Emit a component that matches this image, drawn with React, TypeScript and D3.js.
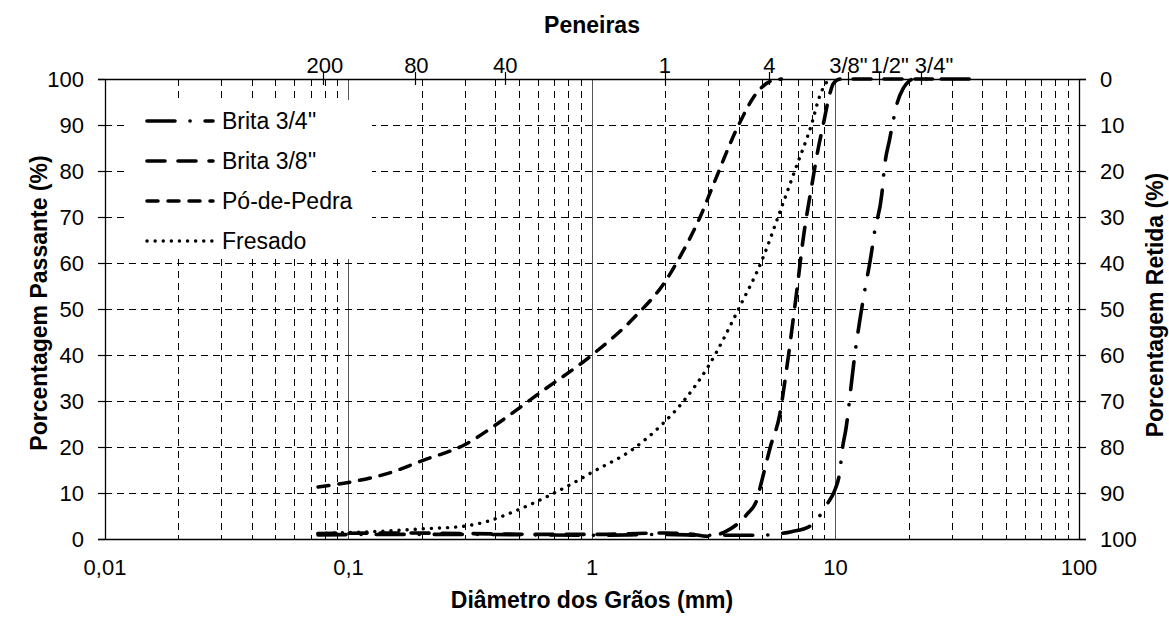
import React from "react";
import * as d3 from "d3";

const W = 1169;
const H = 617;

// Axis ticks
const xTickValues = [0.01, 0.1, 1, 10, 100];
const xTickLabels = ["0,01", "0,1", "1", "10", "100"];
const yTickValues = [0, 10, 20, 30, 40, 50, 60, 70, 80, 90, 100];
const yRightLabels = ["100", "90", "80", "70", "60", "50", "40", "30", "20", "10", "0"];

// Top sieve axis (Peneiras): tick positions and label anchors, in mm
const sieveLabels = ["200", "80", "40", "1", "4", "3/8\"", "1/2\"", "3/4\""];
const sieveMm = [0.0785, 0.188, 0.44, 2.0, 5.33, 11.25, 15.1, 22.4];
const sieveLabelMm = [0.08, 0.19, 0.44, 1.99, 5.35, 11.3, 16.7, 25.4];

// Series: Brita 3/4''
const brita34Mm = [0.075, 0.15, 0.3, 0.6, 1.0, 2.0, 3.0, 4.75, 6.0, 6.6, 7.8, 9.3, 9.95, 10.4, 10.7, 11.05, 11.65, 12.0, 12.6, 13.2, 13.9, 14.5, 15.5, 15.9, 16.7, 17.3, 17.9, 19.0, 20.0, 21.0, 38.0];
const brita34Pct = [0.9, 1.0, 1.0, 0.9, 0.8, 1.0, 0.8, 0.8, 1.2, 1.6, 2.7, 7.8, 10.7, 14.4, 20.0, 24.1, 34.3, 40.0, 47.7, 54.2, 60.7, 67.0, 75.0, 81.0, 87.0, 91.2, 94.7, 98.0, 99.5, 100, 100];

// Series: Brita 3/8''
const brita38Mm = [0.075, 0.15, 0.3, 0.6, 1.0, 2.0, 2.5, 3.0, 3.5, 4.0, 4.35, 4.75, 5.0, 5.4, 5.9, 6.3, 6.9, 7.4, 8.0, 8.5, 8.9, 9.5, 9.8, 10.5, 25.0];
const brita38Pct = [1.2, 1.3, 1.2, 1.0, 1.0, 1.3, 1.1, 0.6, 1.5, 3.5, 5.5, 8.5, 13, 20, 27, 37, 53, 66, 77, 85, 90, 97, 99, 100, 100];

// Series: Pó-de-Pedra
const poMm = [0.075, 0.1, 0.15, 0.2, 0.3, 0.42, 0.6, 1.0, 1.5, 2.0, 2.3, 2.78, 3.15, 4.0, 4.75, 5.4, 6.0];
const poPct = [11.3, 12.3, 14.5, 17.0, 20.5, 25.5, 31.5, 40, 48.3, 56, 61.4, 70, 77, 90, 97, 99.5, 100];

// Series: Fresado
const fresadoMm = [0.075, 0.1, 0.15, 0.2, 0.3, 0.37, 0.5, 0.7, 0.88, 1.0, 1.47, 1.93, 2.38, 3.0, 4.05, 5.0, 5.9, 6.8, 8.0, 8.6, 9.2, 9.5];
const fresadoPct = [1.2, 1.4, 1.8, 2.2, 2.8, 3.8, 6.4, 10, 12.8, 14.5, 19.5, 24.8, 30, 37.5, 50.6, 60.7, 71, 80, 90.4, 96.2, 99.3, 100];

const seriesNames = ["Brita 3/4''", "Brita 3/8''", "Pó-de-Pedra", "Fresado"];

const FONT = "'Liberation Sans', Arial, Helvetica, sans-serif";

export default function App() {
  const x = d3.scaleLog().domain([0.01, 100]).range([105, 1079]);
  const y = d3.scaleLinear().domain([0, 100]).range([539, 79]);
  const [x0, x1] = x.range();
  const [yb, yt] = y.range();
  const c = (v: number) => Math.round(v) + 0.5;

  const minor: number[] = [];
  [0.01, 0.1, 1, 10].forEach((d) => {
    for (let k = 2; k <= 9; k++) minor.push(d * k);
  });

  const line = d3
    .line<[number, number]>()
    .x((d) => x(d[0]))
    .y((d) => y(d[1]))
    .curve(d3.curveMonotoneX);

  const zip = (a: number[], b: number[]) => a.map((v, i) => [v, b[i]] as [number, number]);

  const styles = [
    { dash: "28 15 0.1 15", width: 3.6 },
    { dash: "18 13", width: 3.6 },
    { dash: "11 10", width: 3.5 },
    { dash: "0.1 8", width: 3.4 },
  ];
  const data = [
    zip(brita34Mm, brita34Pct),
    zip(brita38Mm, brita38Pct),
    zip(poMm, poPct),
    zip(fresadoMm, fresadoPct),
  ];

  const legendX = 147;
  const legendRows = [121, 161, 201, 241];

  return (
    <svg
      width={W}
      height={H}
      style={{ position: "fixed", left: 0, top: 0, background: "#fff" }}
      fontFamily={FONT}
    >
      <rect x={0} y={0} width={W} height={H} fill="#fff" />
      {/* vertical minor grid */}
      {minor.map((v, i) => (
        <line key={"m" + i} x1={c(x(v))} x2={c(x(v))} y1={yt} y2={yb} stroke="#000" strokeWidth={1} strokeDasharray="7 5" shapeRendering="crispEdges" />
      ))}
      {/* decade lines */}
      {[0.1, 1, 10].map((v) => (
        <line key={"d" + v} x1={c(x(v))} x2={c(x(v))} y1={yt} y2={yb} stroke="#555" strokeWidth={1} shapeRendering="crispEdges" />
      ))}
      {/* horizontal grid */}
      {yTickValues.slice(1, -1).map((v) => (
        <line key={"h" + v} x1={x0} x2={x1} y1={c(y(v))} y2={c(y(v))} stroke="#000" strokeWidth={1} strokeDasharray="7 5" shapeRendering="crispEdges" />
      ))}
      {/* legend background */}
      <rect x={127} y={100} width={245} height={159} fill="#fff" />
      {/* axes */}
      <line x1={c(x0)} x2={c(x0)} y1={yt} y2={yb} stroke="#000" strokeWidth={1.3} />
      <line x1={c(x1)} x2={c(x1)} y1={yt} y2={yb} stroke="#000" strokeWidth={1.3} />
      <line x1={x0 - 7} x2={x1 + 7} y1={c(yb)} y2={c(yb)} stroke="#000" strokeWidth={1.3} />
      <line x1={x0 - 7} x2={x1 + 7} y1={c(yt)} y2={c(yt)} stroke="#000" strokeWidth={1.3} />
      {yTickValues.map((v) => (
        <g key={"t" + v}>
          <line x1={x0 - 7} x2={x0} y1={c(y(v))} y2={c(y(v))} stroke="#000" strokeWidth={1.2} />
          <line x1={x1} x2={x1 + 7} y1={c(y(v))} y2={c(y(v))} stroke="#000" strokeWidth={1.2} />
          <text x={84} y={y(v)} textAnchor="end" dominantBaseline="central" fontSize={22}>
            {v}
          </text>
        </g>
      ))}
      {yRightLabels.map((lab, i) => (
        <text key={"r" + i} x={1100} y={y(yTickValues[i])} dominantBaseline="central" fontSize={22}>
          {lab}
        </text>
      ))}
      {xTickValues.map((v, i) => (
        <text key={"x" + v} x={x(v)} y={575} textAnchor="middle" fontSize={22}>
          {xTickLabels[i]}
        </text>
      ))}
      {/* sieve axis */}
      {sieveMm.map((v, i) => (
        <g key={"s" + i}>
          <line x1={c(x(v))} x2={c(x(v))} y1={72} y2={85} stroke="#000" strokeWidth={1.2} />
          <text x={x(sieveLabelMm[i])} y={73} textAnchor="middle" fontSize={22}>
            {sieveLabels[i]}
          </text>
        </g>
      ))}
      {/* curves */}
      {data.map((d, i) => (
        <path
          key={"c" + i}
          d={line(d) || ""}
          fill="none"
          stroke="#000"
          strokeWidth={styles[i].width}
          strokeDasharray={styles[i].dash}
          strokeLinecap="round"
        />
      ))}
      {/* legend */}
      {seriesNames.map((name, i) => (
        <g key={"l" + i}>
          <line
            x1={legendX}
            x2={legendX + 66}
            y1={legendRows[i]}
            y2={legendRows[i]}
            stroke="#000"
            strokeWidth={styles[i].width}
            strokeDasharray={styles[i].dash}
            strokeLinecap="round"
          />
          <text x={222} y={legendRows[i]} dominantBaseline="central" fontSize={23}>
            {name}
          </text>
        </g>
      ))}
      {/* titles */}
      <text x={(x0 + x1) / 2} y={33} textAnchor="middle" fontSize={23} fontWeight="bold">
        Peneiras
      </text>
      <text x={(x0 + x1) / 2} y={608} textAnchor="middle" fontSize={23} fontWeight="bold">
        Diâmetro dos Grãos (mm)
      </text>
      <text
        transform={`translate(47, 303) rotate(-90)`}
        textAnchor="middle"
        fontSize={23}
        fontWeight="bold"
      >
        Porcentagem Passante (%)
      </text>
      <text
        transform={`translate(1163, 305) rotate(-90)`}
        textAnchor="middle"
        fontSize={23}
        fontWeight="bold"
      >
        Porcentagem Retida (%)
      </text>
    </svg>
  );
}
